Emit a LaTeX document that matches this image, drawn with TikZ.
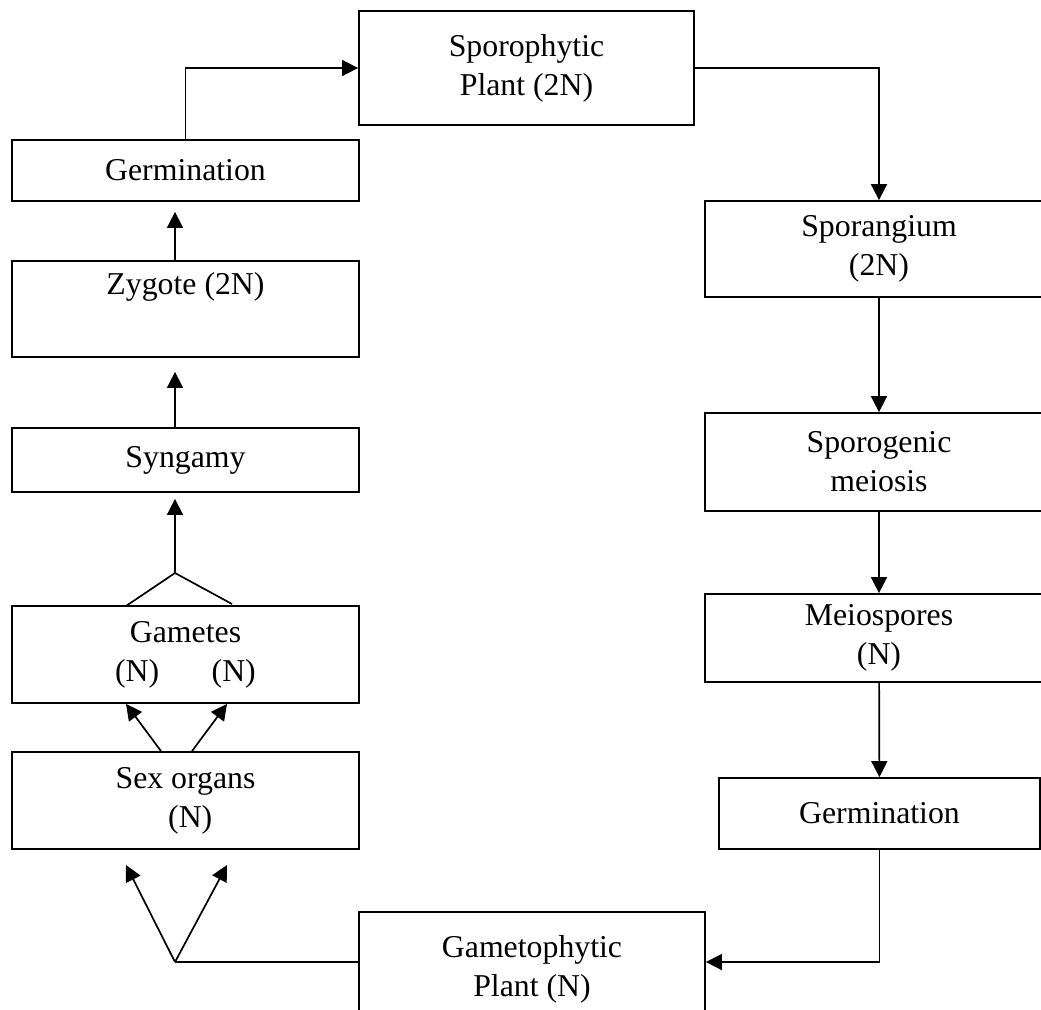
\documentclass[tikz,border=0pt]{standalone}
\usepackage{fontspec}
\setmainfont{Liberation Serif}
\usepackage{tikz}
\usetikzlibrary{arrows.meta}
\tikzset{
    every node/.style={rectangle, draw, inner sep=0pt, align=center,
    	line width=0.9pt, font=\fontsize{15.9}{19.5}\selectfont}
}
\tikzset{
    every edge/.append style={line width=0.85pt}
}
\tikzset{
	>={Triangle[length=8pt,width=8pt]}
}

\begin{document}
\begin{tikzpicture}[line width=0.85pt]
  \useasboundingbox (0pt,0pt) rectangle (520.5pt,-504.5pt);
  \node (1) [minimum width=167.5pt, minimum height=57pt] at (263.25pt, -34pt) {Sporophytic\\Plant (2N)};
  \node (2) [minimum width=174pt, minimum height=48pt] at (439.5pt, -124.5pt) {Sporangium\\(2N)};
  \node (3) [minimum width=174pt, minimum height=49pt] at (439.5pt, -231pt) {Sporogenic\\meiosis};
  \node (4) [minimum width=174pt, minimum height=44pt] at (439.5pt, -319pt) {Meiospores\\(N)};
  \node (5) [minimum width=160.5pt, minimum height=35.5pt] at (439.75pt, -406.75pt) {Germination};
  \node (6) [minimum width=173pt, minimum height=57pt] at (266pt, -484.5pt) {Gametophytic\\Plant (N)};
  \node (7) [minimum width=173.5pt, minimum height=48.5pt] at (92.75pt, -400.25pt) {Sex organs\\\hspace{0.3em}(N)};
  \node (8) [minimum width=173.5pt, minimum height=48.5pt] at (92.75pt, -327.25pt) {Gametes\\(N)\hspace{1.65em}(N)};
  \node (9) [minimum width=173.5pt, minimum height=32pt] at (92.75pt, -230pt) {Syngamy};
  \node (10) [minimum width=173.5pt, minimum height=48pt] at (92.75pt, -154.5pt) {Zygote (2N)\\ \strut};
  \node (11) [minimum width=173.5pt, minimum height=30.5pt] at (92.75pt, -85.25pt) {Germination};
  \coordinate (a) at (87.5pt, -286.5pt);
  \coordinate (b) at (63pt, -303pt);
  \coordinate (c) at (116pt, -302pt);
  \coordinate (d) at (87.5pt, -481pt);
  \coordinate (e) at (63pt, -432.5pt);
  \coordinate (f) at (113.5pt, -432.5pt);

  \draw[->] (11.north) |- (1.west); \draw[->] (1.east) -| (2.north);
  \path[->] (2) edge (3); \path[->] (3) edge (4); \path[->] (4) edge (5);
  \draw[->] (5.south) |- ([yshift=3.5pt]6.east);
  \draw (d) -- ([yshift=3.5pt]6.west);
  \path[->] (d) edge (e); \path[->] (d) edge (f);
  \path[->] ([xshift=-12.25pt]7.north) edge ([xshift=-29.75pt]8.south);
  \path[->] ([xshift=3.25pt]7.north) edge ([xshift=20.75pt]8.south);
  \path (a) edge (b); \path (a) edge (c);
  \path[->] (a) edge ([xshift=-5.25pt,yshift=-3pt]9.south);
  \path[->] ([xshift=-5.25pt]9.north) edge ([xshift=-5.25pt,yshift=-7pt]10.south);
  \path[->] ([xshift=-5.25pt]10.north) edge ([xshift=-5.25pt,yshift=-5pt]11.south);
\end{tikzpicture}
\end{document}
